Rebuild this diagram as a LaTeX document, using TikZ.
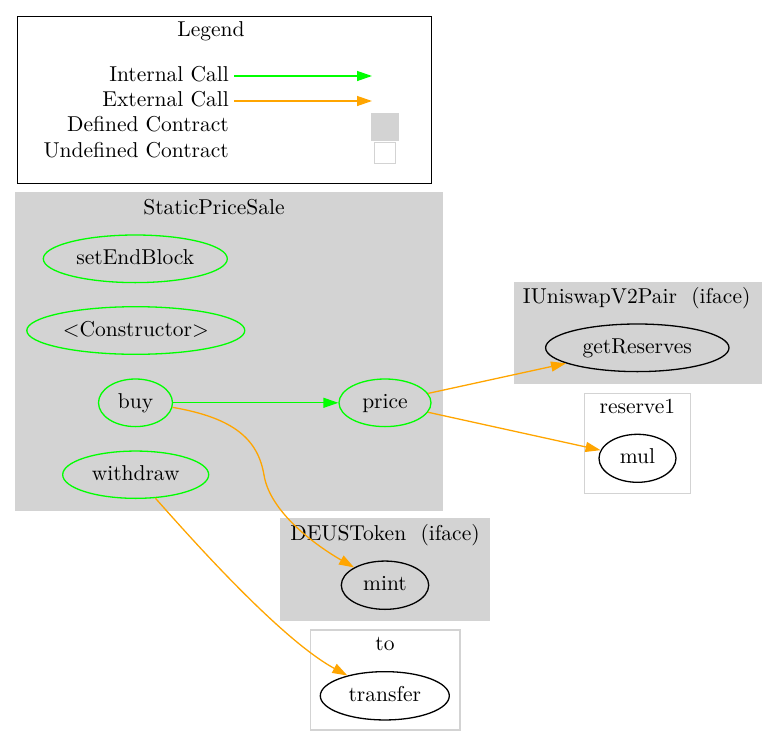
\documentclass[tikz,border=0pt]{standalone}
\usepackage{fontspec}
\setmainfont{lmroman10-regular}[Extension=.otf]
\usetikzlibrary{arrows.meta,shapes.geometric}
\definecolor{lgray}{HTML}{D3D3D3}
\definecolor{lime}{HTML}{00FF00}
\definecolor{orng}{HTML}{FFA500}
\begin{document}
\begin{tikzpicture}[x=1pt,y=-1pt,
  font=\fontsize{21.5}{26}\selectfont,
  fn/.style={ellipse, draw=lime, line width=1.3pt, inner sep=0pt, text height=15pt, text depth=4pt},
  ext/.style={ellipse, draw=black, line width=1.3pt, inner sep=0pt, text height=15pt, text depth=4pt},
  defc/.style={fill=lgray, draw=lgray, line width=1.3pt},
  undefc/.style={draw=lgray, line width=1.3pt},
  ttl/.style={anchor=base, inner sep=0pt},
  leg/.style={anchor=base east, inner sep=0pt},
  icall/.style={draw=lime, line width=1.3pt, -{Triangle[length=15pt,width=10pt]}},
  ecall/.style={draw=orng, line width=1.3pt, -{Triangle[length=15pt,width=10pt]}}]
\useasboundingbox (0,0) rectangle (766,747);
% Legend
\draw[black, line width=1pt] (17,16) rectangle (431,183);
\node[ttl] (legtitle) at (211,36) {Legend};
\node[leg] (li) at (229,81.7) {Internal Call};
\node[leg] (le) at (229,106.7) {External Call};
\node[leg] (ld) at (229,131.7) {Defined Contract};
\node[leg] (lu) at (229,157.3) {Undefined Contract};
\coordinate (lis) at (234,76);
\coordinate (lie) at (372,76);
\coordinate (les) at (234,101);
\coordinate (lee) at (372,101);
\draw[icall] (lis) -- (lie);
\draw[ecall] (les) -- (lee);
\path[defc] (372,114) rectangle (398,140);
\path[undefc] (374.5,142.5) rectangle (395.5,163.5);
% Clusters
\path[defc] (16,193) rectangle (442,510);
\node[ttl] (tSPS) at (214,214.3) {StaticPriceSale};
\path[defc] (514.3,282.3) rectangle (761,383.3);
\node[ttl] (tUni) at (636.7,303.3) {IUniswapV2Pair\ \ (iface)};
\path[undefc] (584.3,393.3) rectangle (690.3,493.3);
\node[ttl] (tRes) at (637.3,413.3) {reserve1};
\path[defc] (281,519) rectangle (489,620.7);
\node[ttl] (tDeus) at (385,540) {DEUSToken\ \ (iface)};
\path[undefc] (310.3,630) rectangle (460,730);
\node[ttl] (tTo) at (385,650.7) {to};
% Nodes
\node[fn, minimum width=184pt, minimum height=47.6pt] (setEndBlock) at (135.3,258.8) {setEndBlock};
\node[fn, minimum width=218pt, minimum height=47.6pt] (ctor) at (135.8,330.5) {<Constructor>};
\node[fn, minimum width=74pt, minimum height=47.6pt] (buy) at (135.5,402.8) {buy};
\node[fn, minimum width=92pt, minimum height=47.6pt] (price) at (385,402.8) {price};
\node[fn, minimum width=146pt, minimum height=47.3pt] (withdraw) at (135.7,474.7) {withdraw};
\node[ext, minimum width=183.4pt, minimum height=47.6pt] (getReserves) at (637.3,347.8) {getReserves};
\node[ext, minimum width=77pt, minimum height=48pt] (mul) at (637.5,458.3) {mul};
\node[ext, minimum width=87.4pt, minimum height=48.3pt] (mint) at (385,585.2) {mint};
\node[ext, minimum width=129pt, minimum height=48.3pt] (transfer) at (384.8,695.8) {transfer};
% Edges
\draw[icall] (buy) -- (price);
\draw[ecall] (price) -- (getReserves);
\draw[ecall] (price) -- (mul);
\draw[ecall] (buy.-7) .. controls (235,418) and (258,440) .. (264,475) .. controls (270,512) and (315,545) .. (mint);
\draw[ecall] (withdraw.-50) .. controls (195,543) and (282,640) .. (transfer);
\end{tikzpicture}
\end{document}
